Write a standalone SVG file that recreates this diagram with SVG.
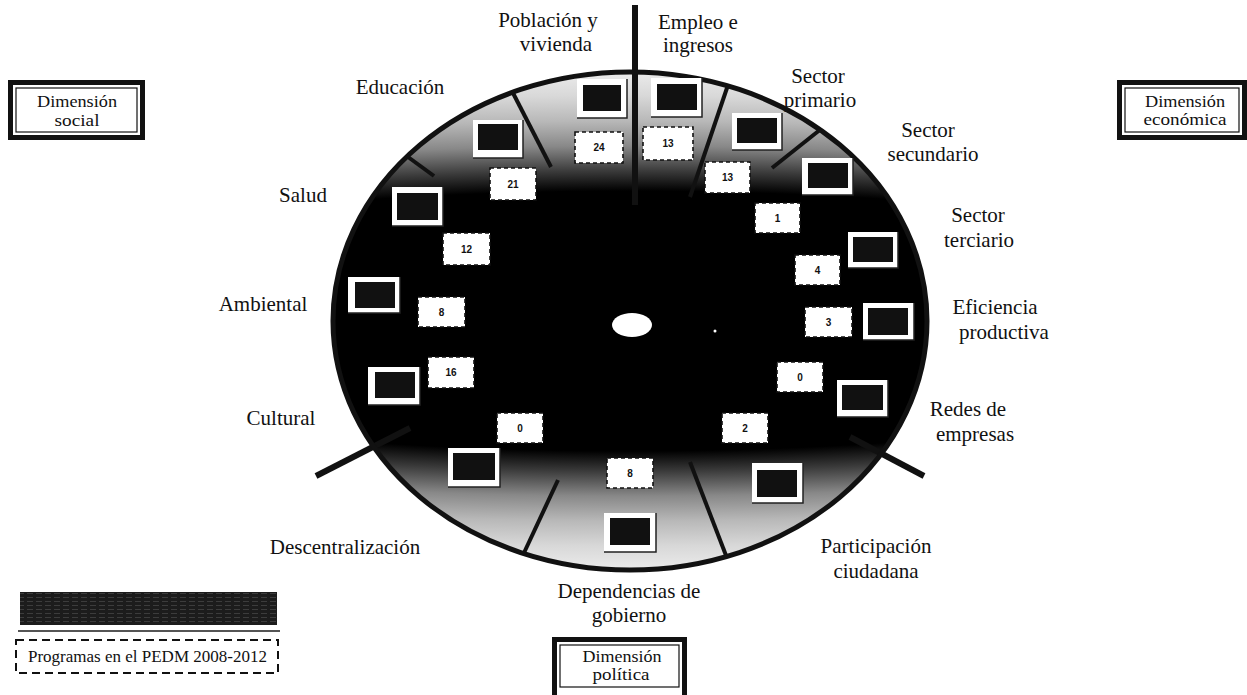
<svg xmlns="http://www.w3.org/2000/svg" width="1247" height="695" viewBox="0 0 1247 695">
  <defs>
    <radialGradient id="discFill" gradientUnits="userSpaceOnUse" cx="630" cy="321" r="250" gradientTransform="translate(630 321) scale(5.6 1) translate(-630 -321)">
      <stop offset="0" stop-color="#000"/>
      <stop offset="0.52" stop-color="#000"/>
      <stop offset="0.6" stop-color="#3a3a3a"/>
      <stop offset="0.7" stop-color="#888"/>
      <stop offset="0.8" stop-color="#b8b8b8"/>
      <stop offset="0.9" stop-color="#d8d8d8"/>
      <stop offset="1" stop-color="#ececec"/>
    </radialGradient>
    <pattern id="barGrain" patternUnits="userSpaceOnUse" width="9" height="4">
      <rect width="9" height="4" fill="#1c1c1c"/>
      <rect x="0" y="1" width="6" height="1" fill="#3c3c3c"/>
    </pattern>
  </defs>
  <style>
    .lbl { font-family: 'Liberation Serif', 'Times New Roman', serif; font-size: 21px; fill: #111; text-anchor: middle; }
    .dim { font-family: 'Liberation Serif', 'Times New Roman', serif; font-size: 17px; fill: #111; text-anchor: middle; }
    .fw { fill: #fff; }
    .fi { fill: #111; }
    .fs { fill: none; stroke: #222; stroke-width: 1.5; }
    .nb { fill: #fff; stroke: #111; stroke-width: 1.6; stroke-dasharray: 4 3; }
    .nt { font-family: 'Liberation Sans', Arial, sans-serif; font-size: 10px; font-weight: bold; fill: #111; text-anchor: middle; }
    .spoke { stroke: #111; stroke-width: 6; fill: none; }
    .div { stroke: #111; stroke-width: 4; fill: none; }
    .dbo { fill: none; stroke: #111; stroke-width: 5; }
    .dbi { fill: #fff; stroke: #111; stroke-width: 1.2; }
  </style>

  <rect x="0" y="0" width="1247" height="695" fill="#fff"/>

  <!-- disc -->
  <ellipse id="disc" cx="630" cy="321" rx="297" ry="249" fill="url(#discFill)"/>

  <!-- spokes and dividers -->
  <g id="connectors">
    <path class="spoke" d="M635,5 V205"/>
    <path class="spoke" d="M316,476 L410,428"/>
    <path class="spoke" d="M924,476 L850,437"/>
    <path class="div" d="M408,157 L434,176"/>
    <path class="div" d="M513,93 L551,167"/>
    <path class="div" d="M728,85 L690,197"/>
    <path class="div" d="M821,129 L772,168"/>
    <path class="div" d="M523,555 L558,480"/>
    <path class="div" d="M727,558 L690,462"/>
  </g>

  <ellipse cx="630" cy="321" rx="297" ry="249" fill="none" stroke="#111" stroke-width="5"/>

  <!-- hub -->
  <ellipse id="hub" cx="632" cy="325" rx="20" ry="12" fill="#fff"/>
  <circle cx="715" cy="331" r="1.5" fill="#fff"/>

  <!-- sectors -->
  <g id="s-poblacion">
    <text class="lbl" x="548" y="27">Población y</text>
    <text class="lbl" x="556" y="51">vivienda</text>
    <rect class="fw" x="577" y="79" width="50" height="39"/><rect class="fi" x="583" y="85" width="38" height="26"/><path class="fs" d="M577,118 H627 V79"/>
    <rect class="nb" x="575" y="132" width="48" height="31"/><text class="nt" x="599" y="151">24</text>
  </g>
  <g id="s-empleo">
    <text class="lbl" x="698" y="29">Empleo e</text>
    <text class="lbl" x="698" y="52">ingresos</text>
    <rect class="fw" x="651" y="78" width="51" height="39"/><rect class="fi" x="657" y="84" width="40" height="26"/><path class="fs" d="M651,117 H702 V78"/>
    <rect class="nb" x="643" y="127" width="50" height="33"/><text class="nt" x="668" y="147">13</text>
  </g>
  <g id="s-primario">
    <text class="lbl" x="818" y="83">Sector</text>
    <text class="lbl" x="820" y="107">primario</text>
    <rect class="fw" x="732" y="113" width="50" height="37"/><rect class="fi" x="737" y="118" width="40" height="25"/><path class="fs" d="M732,150 H782 V113"/>
    <rect class="nb" x="705" y="162" width="45" height="31"/><text class="nt" x="727.5" y="181">13</text>
  </g>
  <g id="s-secundario">
    <text class="lbl" x="928" y="137">Sector</text>
    <text class="lbl" x="933" y="161">secundario</text>
    <rect class="fw" x="802" y="158" width="51" height="37"/><rect class="fi" x="808" y="163" width="40" height="25"/><path class="fs" d="M802,195 H853 V158"/>
    <rect class="nb" x="755" y="203" width="45" height="30"/><text class="nt" x="777.5" y="221.5">1</text>
  </g>
  <g id="s-terciario">
    <text class="lbl" x="978" y="222">Sector</text>
    <text class="lbl" x="979" y="247">terciario</text>
    <rect class="fw" x="848" y="232" width="50" height="36"/><rect class="fi" x="853" y="237" width="40" height="25"/><path class="fs" d="M848,268 H898 V232"/>
    <rect class="nb" x="795" y="255" width="45" height="30"/><text class="nt" x="817.5" y="273.5">4</text>
  </g>
  <g id="s-eficiencia">
    <text class="lbl" x="995" y="314">Eficiencia</text>
    <text class="lbl" x="1004" y="339">productiva</text>
    <rect class="fw" x="863" y="303" width="51" height="37"/><rect class="fi" x="868" y="308" width="40" height="27"/><path class="fs" d="M863,340 H914 V303"/>
    <rect class="nb" x="805" y="307" width="47" height="30"/><text class="nt" x="828.5" y="325.5">3</text>
  </g>
  <g id="s-redes">
    <text class="lbl" x="968" y="416">Redes de</text>
    <text class="lbl" x="975" y="441">empresas</text>
    <rect class="fw" x="837" y="380" width="51" height="37"/><rect class="fi" x="842" y="385" width="41" height="25"/><path class="fs" d="M837,417 H888 V380"/>
    <rect class="nb" x="777" y="362" width="46" height="30"/><text class="nt" x="800" y="380.5">0</text>
  </g>
  <g id="s-participacion">
    <text class="lbl" x="876" y="553">Participación</text>
    <text class="lbl" x="876" y="578">ciudadana</text>
    <rect class="fw" x="752" y="463" width="51" height="40"/><rect class="fi" x="757" y="470" width="40" height="27"/><path class="fs" d="M752,503 H803 V463"/>
    <rect class="nb" x="722" y="413" width="46" height="30"/><text class="nt" x="745" y="431.5">2</text>
  </g>
  <g id="s-dependencias">
    <text class="lbl" x="629" y="598">Dependencias de</text>
    <text class="lbl" x="629" y="622">gobierno</text>
    <rect class="fw" x="604" y="513" width="52" height="39"/><rect class="fi" x="610" y="518" width="40" height="27"/><path class="fs" d="M604,552 H656 V513"/>
    <rect class="nb" x="607" y="458" width="46" height="30"/><text class="nt" x="630" y="476.5">8</text>
  </g>
  <g id="s-descentralizacion">
    <text class="lbl" x="345" y="554">Descentralización</text>
    <rect class="fw" x="448" y="448" width="52" height="39"/><rect class="fi" x="453" y="453" width="42" height="27"/><path class="fs" d="M448,487 H500 V448"/>
    <rect class="nb" x="497" y="413" width="46" height="30"/><text class="nt" x="520" y="431.5">0</text>
  </g>
  <g id="s-cultural">
    <text class="lbl" x="281" y="425">Cultural</text>
    <rect class="fw" x="368" y="367" width="52" height="38"/><rect class="fi" x="375" y="372" width="40" height="26"/><path class="fs" d="M368,405 H420 V367"/>
    <rect class="nb" x="428" y="357" width="46" height="31"/><text class="nt" x="451" y="376">16</text>
  </g>
  <g id="s-ambiental">
    <text class="lbl" x="263" y="311">Ambiental</text>
    <rect class="fw" x="348" y="277" width="52" height="36"/><rect class="fi" x="355" y="282" width="40" height="26"/><path class="fs" d="M348,313 H400 V277"/>
    <rect class="nb" x="418" y="297" width="47" height="30"/><text class="nt" x="441.5" y="315.5">8</text>
  </g>
  <g id="s-salud">
    <text class="lbl" x="303" y="202">Salud</text>
    <rect class="fw" x="392" y="187" width="51" height="39"/><rect class="fi" x="397" y="193" width="41" height="27"/><path class="fs" d="M392,226 H443 V187"/>
    <rect class="nb" x="443" y="233" width="47" height="32"/><text class="nt" x="466.5" y="252.5">12</text>
  </g>
  <g id="s-educacion">
    <text class="lbl" x="400" y="94">Educación</text>
    <rect class="fw" x="473" y="120" width="50" height="38"/><rect class="fi" x="478" y="124" width="40" height="26"/><path class="fs" d="M473,158 H523 V120"/>
    <rect class="nb" x="490" y="168" width="46" height="32"/><text class="nt" x="513" y="187.5">21</text>
  </g>

  <!-- dimension boxes -->
  <g id="dim-social">
    <rect class="dbo" x="10.5" y="82.5" width="132" height="55"/>
    <rect class="dbi" x="16" y="88" width="121" height="44"/>
    <text class="dim" x="77" y="107" textLength="80" lengthAdjust="spacingAndGlyphs">Dimensión</text>
    <text class="dim" x="77" y="126" textLength="45" lengthAdjust="spacingAndGlyphs">social</text>
  </g>
  <g id="dim-economica">
    <rect class="dbo" x="1119.5" y="82.5" width="125" height="55"/>
    <rect class="dbi" x="1125" y="88" width="114" height="44"/>
    <text class="dim" x="1185" y="107" textLength="80" lengthAdjust="spacingAndGlyphs">Dimensión</text>
    <text class="dim" x="1185" y="125" textLength="83" lengthAdjust="spacingAndGlyphs">económica</text>
  </g>
  <g id="dim-politica">
    <rect class="dbo" x="554.5" y="639.5" width="130" height="58"/>
    <rect class="dbi" x="560" y="645" width="119" height="42"/>
    <text class="dim" x="622" y="662" textLength="79" lengthAdjust="spacingAndGlyphs">Dimensión</text>
    <text class="dim" x="621" y="680" textLength="57" lengthAdjust="spacingAndGlyphs">política</text>
  </g>

  <!-- legend -->
  <g id="legend">
    <rect x="20" y="592" width="257" height="33" fill="url(#barGrain)"/>
    <line x1="18" y1="631" x2="280" y2="631" stroke="#555" stroke-width="2"/>
    <rect x="16" y="640" width="262" height="33" fill="#fff" stroke="#111" stroke-width="2" stroke-dasharray="8 5"/>
    <text x="28" y="662" font-family="'Liberation Serif', 'Times New Roman', serif" font-size="17" fill="#111">Programas en el PEDM 2008-2012</text>
  </g>
</svg>
